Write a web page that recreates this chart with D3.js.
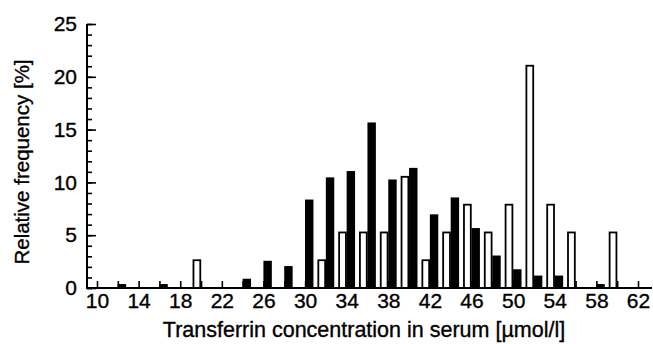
<!DOCTYPE html>
<html><head><meta charset="utf-8">
<script src="https://cdn.jsdelivr.net/npm/d3@7"></script>
<style>
body{margin:0;background:#fff;}
text{font-family:"Liberation Sans",Arial,sans-serif;fill:#000;stroke:#000;stroke-width:0.35px;}
</style></head><body>
<svg id="c" width="653" height="344"></svg>
<script>
const bins = [10,12,14,16,18,20,22,24,26,28,30,32,34,36,38,40,42,44,46,48,50,52,54,56,58,60];
const openValues = [0,0,0,0,0,2.63,0,0,0,0,0,2.63,5.26,5.26,5.26,10.53,2.63,5.26,7.89,5.26,7.89,21.05,7.89,5.26,0,5.26];
const filledValues = [0,0.3,0,0.3,0,0,0,0.8,2.5,2.0,8.3,10.4,11.0,15.6,10.2,11.3,6.9,8.5,5.6,3.0,1.7,1.1,1.1,0,0.3,0];
const xTicks = [10,14,18,22,26,30,34,38,42,46,50,54,58,62];
const yTicks = [0,5,10,15,20,25];

const svg = d3.select("#c");
const x = d3.scaleLinear().domain([10,62]).range([97,638]);
const y = d3.scaleLinear().domain([0,25]).range([288,24]);
const bw = x(10.8)-x(10);
const axisX = 87;

// bars
const g = svg.append("g");
bins.forEach((b,i)=>{
  if(openValues[i]>0){
    g.append("rect").attr("x",x(b)-bw+0.75).attr("y",y(openValues[i]))
      .attr("width",bw-1.5).attr("height",y(0)-y(openValues[i]))
      .attr("fill","#fff").attr("stroke","#000").attr("stroke-width",1.8);
  }
  if(filledValues[i]>0){
    g.append("rect").attr("x",x(b)+0.75).attr("y",y(filledValues[i]))
      .attr("width",bw-1.5).attr("height",y(0)-y(filledValues[i]))
      .attr("fill","#000").attr("stroke","#000").attr("stroke-width",1.6);
  }
});

// x axis
const xa = svg.append("g").attr("transform",`translate(0,${y(0)})`)
  .call(d3.axisBottom(x).tickValues(d3.range(10,63,2)).tickSize(-7).tickFormat(d=> xTicks.includes(d)? d : ""));
xa.select(".domain").remove();
xa.selectAll(".tick line").attr("stroke","#000").attr("stroke-width",1.6);
xa.selectAll(".tick text").attr("y",5).attr("dy","0.71em").style("font-size","21px");
svg.append("line").attr("x1",axisX).attr("x2",652).attr("y1",y(0)).attr("y2",y(0))
  .attr("stroke","#000").attr("stroke-width",2);

// y axis
const yaMinor = svg.append("g").attr("transform",`translate(${axisX},0)`)
  .call(d3.axisRight(y).tickValues(d3.range(0,26,1)).tickSize(5).tickFormat(""));
yaMinor.select(".domain").remove();
yaMinor.selectAll(".tick line").attr("stroke","#000").attr("stroke-width",1.6);
const ya = svg.append("g").attr("transform",`translate(${axisX},0)`)
  .call(d3.axisLeft(y).tickValues(yTicks).tickSize(-9).tickPadding(10));
ya.select(".domain").remove();
ya.selectAll(".tick line").attr("stroke","#000").attr("stroke-width",1.6);
ya.selectAll(".tick text").style("font-size","21px");
svg.append("line").attr("x1",axisX).attr("x2",axisX).attr("y1",y(25)).attr("y2",y(0)+1)
  .attr("stroke","#000").attr("stroke-width",2);

// titles
svg.append("text").attr("transform","translate(29,162) rotate(-90)")
  .attr("text-anchor","middle").style("font-size","20.5px").text("Relative frequency [%]");
svg.append("text").attr("x",364).attr("y",337).attr("text-anchor","middle")
  .style("font-size","21.5px").text("Transferrin concentration in serum [µmol/l]");
</script></body></html>
